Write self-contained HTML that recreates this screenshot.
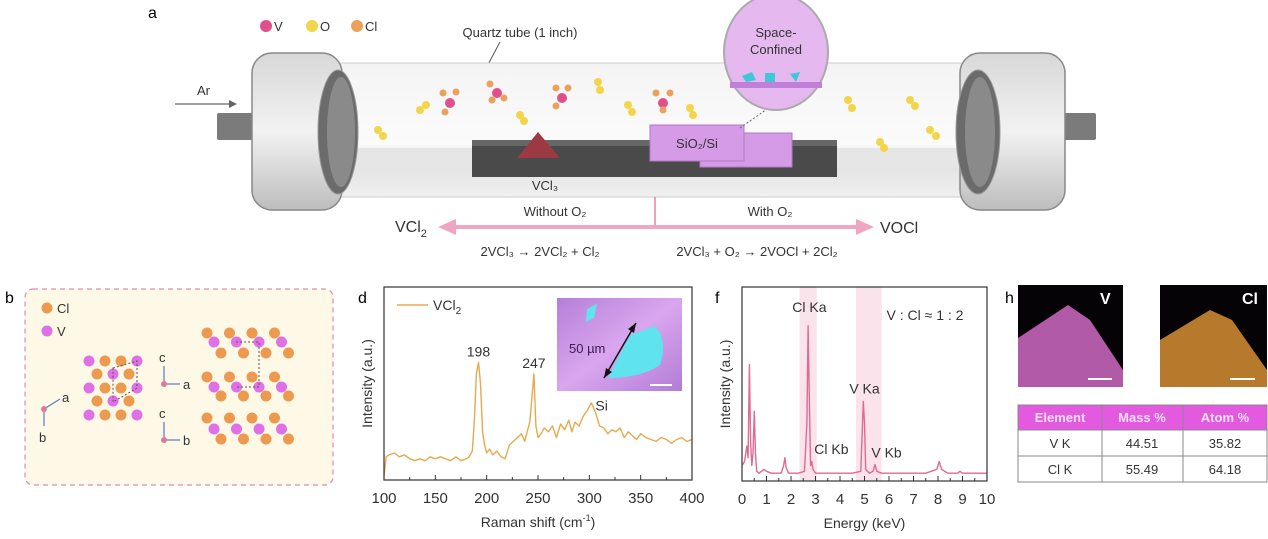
<!DOCTYPE html>
<html><head><meta charset="utf-8"><style>
html,body{margin:0;padding:0;background:#fff;}
svg{display:block;font-family:"Liberation Sans",Arial,sans-serif;}
</style></head><body>
<svg id="fig" width="1268" height="539" viewBox="0 0 1268 539" xmlns="http://www.w3.org/2000/svg">
<defs>
<linearGradient id="capg" x1="0" y1="0" x2="0" y2="1"><stop offset="0" stop-color="#d8d8d8"/><stop offset="0.5" stop-color="#f2f2f2"/><stop offset="1" stop-color="#bdbdbd"/></linearGradient>
<linearGradient id="tubeg" x1="0" y1="0" x2="0" y2="1"><stop offset="0" stop-color="#f4f4f4"/><stop offset="0.6" stop-color="#fbfbfb"/><stop offset="0.75" stop-color="#e2e2e2"/><stop offset="1" stop-color="#f0f0f0"/></linearGradient>
<linearGradient id="insetg" x1="0" y1="0" x2="1" y2="1"><stop offset="0" stop-color="#b57fd8"/><stop offset="0.5" stop-color="#d9a6ee"/><stop offset="1" stop-color="#b27cd6"/></linearGradient>
</defs>
<rect width="1268" height="539" fill="#fff"/>

<!-- Panel a -->
<g>
<text x="148" y="18" font-size="16">a</text>
<g font-size="13" fill="#333">
<circle cx="266" cy="26" r="6" fill="#e0508a"/><text x="274" y="31">V</text>
<circle cx="312" cy="26" r="6" fill="#f2d54a"/><text x="320" y="31">O</text>
<circle cx="357" cy="26" r="6" fill="#eba15c"/><text x="365" y="31">Cl</text>
</g>
<text x="520" y="37" font-size="13" text-anchor="middle" fill="#333">Quartz tube (1 inch)</text>
<line x1="500" y1="42" x2="484" y2="72" stroke="#555" stroke-width="1"/>
<text x="197" y="95" font-size="13" fill="#333">Ar</text>
<line x1="175" y1="104" x2="232" y2="104" stroke="#666" stroke-width="1.2"/><polygon points="237,104 229,100 229,108" fill="#666"/>
<rect x="217" y="113" width="40" height="27" fill="#7b7b7b" rx="2"/>
<rect x="1060" y="113" width="36" height="27" fill="#7b7b7b" rx="2"/>
<rect x="340" y="63" width="625" height="134" fill="url(#tubeg)" stroke="#ccc" stroke-width="1"/>
<rect x="340" y="148" width="625" height="20" fill="#e6e6e6"/>
<rect x="252" y="53" width="90" height="157" rx="20" fill="url(#capg)" stroke="#888" stroke-width="1.5"/>
<ellipse cx="338" cy="132" rx="20" ry="62" fill="#6b6b6b" stroke="#999"/>
<ellipse cx="341" cy="132" rx="14" ry="55" fill="#8a8a8a"/>
<rect x="960" y="53" width="105" height="157" rx="20" fill="url(#capg)" stroke="#888" stroke-width="1.5"/>
<ellipse cx="978" cy="132" rx="22" ry="62" fill="#6b6b6b" stroke="#999"/>
<ellipse cx="980" cy="132" rx="15" ry="55" fill="#8a8a8a"/>
<rect x="472" y="140" width="365" height="37" fill="#4a4a4a"/>
<rect x="472" y="140" width="365" height="6" fill="#666"/>
<polygon points="517,158 538,132 560,158" fill="#9c3a44"/>
<text x="545" y="190" font-size="13" text-anchor="middle" fill="#333">VCl₃</text>
<rect x="700" y="133" width="92" height="34" fill="#d69be6" stroke="#b279c7"/>
<rect x="650" y="125" width="94" height="36" fill="#d69be6" stroke="#b279c7"/>
<text x="697" y="148" font-size="13" text-anchor="middle" fill="#333">SiO₂/Si</text>
<line x1="740" y1="128" x2="780" y2="100" stroke="#666" stroke-dasharray="2,2"/>
<ellipse cx="776" cy="52" rx="52" ry="58" fill="#e5b8f0" stroke="#aaa" stroke-width="2"/>
<rect x="730" y="82" width="92" height="6" fill="#c07fd8"/>
<polygon points="742,76 752,72 756,80 746,82" fill="#3fc7d8"/><rect x="765" y="73" width="10" height="9" fill="#3fc7d8"/><polygon points="790,74 800,72 796,82" fill="#3fc7d8"/>
<text x="776" y="37" font-size="13" text-anchor="middle" fill="#333">Space-</text>
<text x="776" y="54" font-size="13" text-anchor="middle" fill="#333">Confined</text>
<g>
<circle cx="378" cy="130" r="4" fill="#f2d54a"/><circle cx="383" cy="136" r="4" fill="#f2d54a"/>
<circle cx="420" cy="110" r="4" fill="#f2d54a"/><circle cx="426" cy="105" r="4" fill="#f2d54a"/>
<circle cx="450" cy="103" r="5" fill="#e0508a"/><circle cx="443" cy="93" r="3.5" fill="#eba15c"/><circle cx="456" cy="92" r="3.5" fill="#eba15c"/><circle cx="445" cy="112" r="3.5" fill="#eba15c"/>
<circle cx="497" cy="93" r="5" fill="#e0508a"/><circle cx="490" cy="84" r="3.5" fill="#eba15c"/><circle cx="504" cy="98" r="3.5" fill="#eba15c"/><circle cx="492" cy="100" r="3.5" fill="#eba15c"/>
<circle cx="520" cy="115" r="4" fill="#f2d54a"/><circle cx="524" cy="121" r="4" fill="#f2d54a"/>
<circle cx="562" cy="98" r="5" fill="#e0508a"/><circle cx="556" cy="88" r="3.5" fill="#eba15c"/><circle cx="568" cy="88" r="3.5" fill="#eba15c"/><circle cx="556" cy="106" r="3.5" fill="#eba15c"/>
<circle cx="598" cy="82" r="4" fill="#f2d54a"/><circle cx="600" cy="90" r="4" fill="#f2d54a"/>
<circle cx="628" cy="105" r="4" fill="#f2d54a"/><circle cx="632" cy="112" r="4" fill="#f2d54a"/>
<circle cx="663" cy="103" r="5" fill="#e0508a"/><circle cx="656" cy="93" r="3.5" fill="#eba15c"/><circle cx="670" cy="93" r="3.5" fill="#eba15c"/><circle cx="663" cy="110" r="3.5" fill="#eba15c"/>
<circle cx="690" cy="108" r="4" fill="#f2d54a"/><circle cx="693" cy="115" r="4" fill="#f2d54a"/>
<circle cx="848" cy="100" r="4" fill="#f2d54a"/><circle cx="852" cy="108" r="4" fill="#f2d54a"/>
<circle cx="880" cy="142" r="4" fill="#f2d54a"/><circle cx="884" cy="148" r="4" fill="#f2d54a"/>
<circle cx="910" cy="100" r="4" fill="#f2d54a"/><circle cx="915" cy="106" r="4" fill="#f2d54a"/>
<circle cx="930" cy="130" r="4" fill="#f2d54a"/><circle cx="936" cy="136" r="4" fill="#f2d54a"/>
</g>
<line x1="655" y1="197" x2="655" y2="227" stroke="#e87fa6" stroke-width="1.5"/>
<line x1="450" y1="227" x2="862" y2="227" stroke="#f0a6c2" stroke-width="4"/>
<polygon points="438,227 456,219 456,235" fill="#f0a6c2"/><polygon points="874,227 856,219 856,235" fill="#f0a6c2"/>
<text x="555" y="216" font-size="13" text-anchor="middle" fill="#333">Without O₂</text>
<text x="770" y="216" font-size="13" text-anchor="middle" fill="#333">With O₂</text>
<text x="395" y="232" font-size="16" fill="#333">VCl<tspan font-size="11" dy="5">2</tspan></text>
<text x="880" y="233" font-size="16" fill="#333">VOCl</text>
<text x="540" y="256" font-size="13" text-anchor="middle" fill="#333">2VCl₃ → 2VCl₂ + Cl₂</text>
<text x="757" y="256" font-size="13" text-anchor="middle" fill="#333">2VCl₃ + O₂ →  2VOCl + 2Cl₂</text>
</g>

<!-- Panel b -->
<g>
<text x="5" y="303" font-size="16">b</text>
<rect x="25" y="289" width="308" height="196" rx="8" fill="#fdf9e6" stroke="#e38ab0" stroke-width="1.2" stroke-dasharray="5,4"/>
<circle cx="47" cy="308" r="5.5" fill="#eb9a4f"/><text x="57" y="313" font-size="13" fill="#333">Cl</text>
<circle cx="47" cy="331" r="5.5" fill="#e070e6"/><text x="57" y="336" font-size="13" fill="#333">V</text>
<g id="lattice"></g>
<g stroke="#5b7ac0" stroke-width="1.2" fill="none">
<line x1="44" y1="409" x2="60" y2="399"/><line x1="44" y1="409" x2="44" y2="426"/>
<line x1="164" y1="384" x2="164" y2="366"/><line x1="164" y1="384" x2="180" y2="384"/>
<line x1="164" y1="440" x2="164" y2="422"/><line x1="164" y1="440" x2="180" y2="440"/>
</g>
<g fill="#e07898"><circle cx="44" cy="409" r="3"/><circle cx="164" cy="384" r="3"/><circle cx="164" cy="440" r="3"/></g>
<g font-size="13" fill="#333"><text x="62" y="402">a</text><text x="39" y="442">b</text><text x="159" y="362">c</text><text x="183" y="389">a</text><text x="159" y="418">c</text><text x="183" y="445">b</text></g>
</g>

<!-- Panel d -->
<g>
<text x="358" y="303" font-size="16">d</text>
<g id="raman"></g>
<rect x="557" y="298" width="125" height="93" fill="url(#insetg)"/>
<polygon points="587,309 597,304 594,318 586,322" fill="#5fe3ee"/>
<path d="M630,335 L655,326 Q668,340 660,365 Q640,378 608,378 Z" fill="#5fe3ee"/>
<line x1="604" y1="378" x2="636" y2="323" stroke="#111" stroke-width="1.5"/>
<polygon points="636,323 628,329 634,333" fill="#111"/><polygon points="604,378 612,372 606,368" fill="#111"/>
<text x="569" y="353" font-size="13" fill="#3a1b55">50 µm</text>
<line x1="650" y1="385" x2="672" y2="385" stroke="#fff" stroke-width="2"/>
</g>

<!-- Panel f -->
<g>
<text x="715" y="303" font-size="16">f</text>
<g id="eds"></g>
</g>

<!-- Panel h -->
<g>
<text x="1005" y="303" font-size="16">h</text>
<rect x="1018" y="285" width="105" height="102" fill="#050305"/>
<polygon points="1018,338 1068,305 1090,320 1123,370 1123,387 1018,387" fill="#b05aa8"/>
<text x="1100" y="304" font-size="16" font-weight="bold" fill="#fff">V</text>
<line x1="1088" y1="379" x2="1112" y2="379" stroke="#fff" stroke-width="2"/>
<rect x="1160" y="285" width="107" height="102" fill="#050305"/>
<polygon points="1160,340 1210,310 1232,320 1267,370 1267,387 1160,387" fill="#b77a2c"/>
<text x="1242" y="304" font-size="16" font-weight="bold" fill="#fff">Cl</text>
<line x1="1230" y1="379" x2="1255" y2="379" stroke="#fff" stroke-width="2"/>
<g font-size="13" text-anchor="middle" fill="#333">
<rect x="1018" y="405" width="249" height="25" fill="#e35ae0"/>
<rect x="1018" y="430" width="249" height="52" fill="#fff"/>
<g stroke="#888" stroke-width="1" fill="none">
<rect x="1018" y="405" width="249" height="77"/><line x1="1018" y1="430" x2="1267" y2="430"/><line x1="1018" y1="456" x2="1267" y2="456"/>
<line x1="1102" y1="405" x2="1102" y2="482"/><line x1="1183" y1="405" x2="1183" y2="482"/>
</g>
<g font-weight="bold" fill="#f6e0f6"><text x="1060" y="422">Element</text><text x="1142" y="422">Mass %</text><text x="1225" y="422">Atom %</text></g>
<text x="1060" y="448">V K</text><text x="1142" y="448">44.51</text><text x="1225" y="448">35.82</text>
<text x="1060" y="474">Cl K</text><text x="1142" y="474">55.49</text><text x="1225" y="474">64.18</text>
</g>
</g>
</svg>
<script>
// Raman data (panel d)
const ramanX = [100,102,105,110,115,120,125,130,135,140,145,150,155,160,165,170,175,180,183,186,188,190,192,194,196,198,200,203,206,210,214,218,222,226,230,234,237,240,242,244,246,248,250,253,256,260,264,268,272,276,280,283,286,290,294,298,302,306,310,314,318,322,326,330,334,338,342,346,350,355,360,365,370,375,380,385,390,395,400];
const ramanY = [2,12,13,14,12,13,11,10,11,10,12,11,12,11,10,12,10,11,12,15,30,55,61,50,25,18,14,16,13,15,12,11,18,20,22,24,20,26,30,42,55,28,22,24,27,25,28,22,29,26,31,25,30,28,33,36,40,35,28,27,24,26,25,27,22,25,23,21,24,22,21,20,22,21,19,21,22,20,21];
const ramanTicks = [100,150,200,250,300,350,400];
const ramanPeakLabels = [["198",192,64],["247",246,58],["Si",312,36]];
// EDS data (panel f)
const edsX = [0,0.1,0.2,0.25,0.3,0.35,0.4,0.45,0.5,0.55,0.6,0.7,0.9,1.0,1.2,1.6,1.7,1.75,1.8,1.9,2.3,2.55,2.65,2.7,2.75,2.8,2.85,2.9,3.0,3.5,4.5,4.85,4.9,4.95,5.0,5.05,5.2,5.35,5.43,5.5,5.7,6.5,7.5,7.95,8.05,8.15,8.4,8.8,8.9,9.0,9.5,10];
const edsY = [8,10,18,12,60,20,8,14,36,14,5,4,6,5,4,4,8,12,7,4,4,5,30,80,40,8,10,6,4,4,4,5,22,41,30,6,4,5,8.5,5,4,4,4,6,10,6,4,4,5,4,4,4];
const edsTicks = [0,1,2,3,4,5,6,7,8,9,10];
const edsBands = [[2.35,3.05],[4.65,5.7]];
const edsLabels = [["Cl Ka",2.75,87],["V Ka",5.0,45],["Cl Kb",3.65,14],["V Kb",5.9,12]];

const NS="http://www.w3.org/2000/svg";
function mk(parent,tag,attrs){const e=document.createElementNS(NS,tag);for(const k in attrs)e.setAttribute(k,attrs[k]);parent.appendChild(e);return e;}

function chart(g,opt){
  const {L,R,T,B,xmin,xmax,xs,ys,ticks,color,xtitle} = opt;
  const sx=v=>L+(v-xmin)/(xmax-xmin)*(R-L);
  const sy=v=>B-v/100*(B-T);
  (opt.bands||[]).forEach(b=>{
    const r=mk(g,'rect',{x:sx(b[0]),y:T,width:sx(b[1])-sx(b[0]),height:B-T,fill:'#fbe3ec'});
    
    
  });
  let d='';xs.forEach((x,i)=>{d+=(i?'L':'M')+sx(x).toFixed(1)+','+sy(ys[i]).toFixed(1);});
  const p=mk(g,'path',{d:d,fill:'none',stroke:color,'stroke-width':1.4,'stroke-linejoin':'round'});
  
  
  const fr=mk(g,'rect',{x:L,y:T,width:R-L,height:B-T,fill:'none',stroke:'#333','stroke-width':1.2});
  
  
  ticks.forEach(t=>{
    mk(g,'line',{x1:sx(t),x2:sx(t),y1:B,y2:B-5,stroke:'#333'});
    const tx=mk(g,'text',{x:sx(t),y:B+23,'font-size':15,'text-anchor':'middle',fill:'#333'});
    tx.textContent=t;
    
    
  });
  for(let i=0;i<ticks.length-1;i++){const m=(ticks[i]+ticks[i+1])/2;mk(g,'line',{x1:sx(m),x2:sx(m),y1:B,y2:B-3,stroke:'#333'});}
  const xt=mk(g,'text',{x:(L+R)/2,y:B+47,'font-size':14,'text-anchor':'middle',fill:'#333'});
  xt.innerHTML=xtitle;
  
  
  const yt=mk(g,'text',{x:0,y:0,'font-size':14,'text-anchor':'middle',fill:'#333',transform:`translate(${L-12},${(T+B)/2}) rotate(-90)`});
  yt.textContent='Intensity (a.u.)';
  
  
  (opt.labels||[]).forEach(l=>{
    const t=mk(g,'text',{x:sx(l[1]),y:sy(l[2]),'font-size':14,'text-anchor':'middle',fill:'#333'});
    t.textContent=l[0];
    
    
  });
  return {sx,sy};
}

const rg=document.getElementById('raman');
chart(rg,{L:384,R:692,T:287,B:480,xmin:100,xmax:400,xs:ramanX,ys:ramanY,ticks:ramanTicks,color:'#e8a94e',xtitle:'Raman shift (cm<tspan font-size="9" dy="-6">-1</tspan><tspan dy="6">)</tspan>',labels:ramanPeakLabels});
const lg=mk(rg,'line',{x1:397,x2:428,y1:305,y2:305,stroke:'#e8a94e','stroke-width':1.5});


const lt=mk(rg,'text',{x:433,y:310,'font-size':14,fill:'#333'});
lt.innerHTML='VCl<tspan font-size="10" dy="4">2</tspan>';



const eg=document.getElementById('eds');
chart(eg,{L:742,R:987,T:287,B:481,xmin:0,xmax:10,xs:edsX,ys:edsY,ticks:edsTicks,color:'#e06a92',xtitle:'Energy (keV)',bands:edsBands,labels:edsLabels});
const rt=mk(eg,'text',{x:925,y:320,'font-size':14,'text-anchor':'middle',fill:'#333'});
rt.textContent='V : Cl ≈ 1 : 2';



// lattice drawing
const lat=document.getElementById('lattice');
const OR='#eb9a4f', PK='#e070e6';
const topY=[361,374,388,401,415];
topY.forEach((y,r)=>{
  const xs = r%2===0 ? [89,105,121,137] : [97,113,129];
  xs.forEach((x,c)=>{
    const isV = r%2===0 ? (c===0||c===3) : (c===1);
    const a=mk(lat,'circle',{cx:x,cy:y,r:5.5,fill:isV?PK:OR});
    
    
  });
});
[[333,342,353],[377,387,396],[418,429,439]].forEach(rows=>{
  [[207,OR],[214,PK],[221,OR]].forEach((c,i)=>{
    [0,1,2,3].forEach(k=>{
      const a=mk(lat,'circle',{cx:c[0]+k*22.5,cy:rows[i],r:5.5,fill:c[1]});
      
      
    });
  });
});
mk(lat,'path',{d:'M113,368 L137,361 L137,388 L113,402 Z',fill:'none',stroke:'#555','stroke-dasharray':'2,2'});
mk(lat,'path',{d:'M236,342 L259,342 L259,387 L236,387',fill:'none',stroke:'#555','stroke-dasharray':'2,2'});
</script>
</body></html>
